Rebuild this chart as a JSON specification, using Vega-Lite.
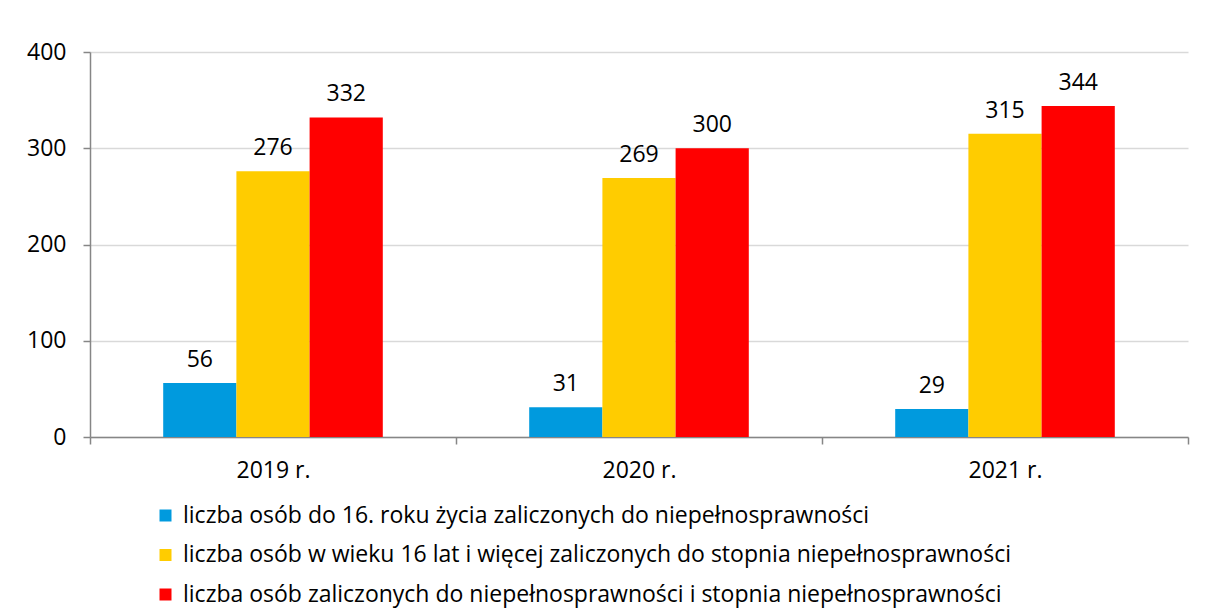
{
  "$schema": "https://vega.github.io/schema/vega-lite/v6.json",
  "width": 1098,
  "height": 385,
  "autosize": {"type": "none"},
  "padding": {"left": 90, "top": 52, "right": 28, "bottom": 173},
  "background": "white",
  "config": {
    "view": {"stroke": null},
    "font": "Open Sans",
    "axis": {"labelFont": "Open Sans", "labelFontSize": 23, "labelColor": "#000000", "domainColor": "#868686", "tickColor": "#868686", "gridColor": "#d9d9d9", "gridWidth": 1.5, "domainWidth": 1.5, "tickWidth": 1.5}
  },
  "data": {
    "values": [
      {"rok": "2019 r.", "seria": "liczba osób do 16. roku życia zaliczonych do niepełnosprawności", "v": 56},
      {"rok": "2019 r.", "seria": "liczba osób w wieku 16 lat i więcej zaliczonych do stopnia niepełnosprawności", "v": 276},
      {"rok": "2019 r.", "seria": "liczba osób zaliczonych do niepełnosprawności i stopnia niepełnosprawności", "v": 332},
      {"rok": "2020 r.", "seria": "liczba osób do 16. roku życia zaliczonych do niepełnosprawności", "v": 31},
      {"rok": "2020 r.", "seria": "liczba osób w wieku 16 lat i więcej zaliczonych do stopnia niepełnosprawności", "v": 269},
      {"rok": "2020 r.", "seria": "liczba osób zaliczonych do niepełnosprawności i stopnia niepełnosprawności", "v": 300},
      {"rok": "2021 r.", "seria": "liczba osób do 16. roku życia zaliczonych do niepełnosprawności", "v": 29},
      {"rok": "2021 r.", "seria": "liczba osób w wieku 16 lat i więcej zaliczonych do stopnia niepełnosprawności", "v": 315},
      {"rok": "2021 r.", "seria": "liczba osób zaliczonych do niepełnosprawności i stopnia niepełnosprawności", "v": 344}
    ]
  },
  "encoding": {
    "x": {
      "field": "rok", "type": "nominal",
      "scale": {"paddingInner": 0, "paddingOuter": 0},
      "axis": {"title": null, "labelAngle": 0, "tickBand": "extent", "tickSize": 7, "labelPadding": 15, "grid": false}
    },
    "xOffset": {
      "field": "seria", "type": "nominal",
      "sort": ["liczba osób do 16. roku życia zaliczonych do niepełnosprawności", "liczba osób w wieku 16 lat i więcej zaliczonych do stopnia niepełnosprawności", "liczba osób zaliczonych do niepełnosprawności i stopnia niepełnosprawności"],
      "scale": {"paddingInner": 0, "paddingOuter": 1}
    },
    "y": {
      "field": "v", "type": "quantitative",
      "scale": {"domain": [0, 400]},
      "axis": {"title": null, "values": [0, 100, 200, 300, 400], "tickSize": 7, "labelPadding": 17, "grid": true}
    }
  },
  "layer": [
    {
      "mark": {"type": "bar"},
      "encoding": {
        "color": {
          "field": "seria", "type": "nominal",
          "sort": ["liczba osób do 16. roku życia zaliczonych do niepełnosprawności", "liczba osób w wieku 16 lat i więcej zaliczonych do stopnia niepełnosprawności", "liczba osób zaliczonych do niepełnosprawności i stopnia niepełnosprawności"],
          "scale": {"range": ["#009ADE", "#FFCC00", "#FF0000"]},
          "legend": {
            "title": null, "orient": "none", "legendX": 64, "legendY": 452, "direction": "vertical",
            "symbolType": "square", "symbolSize": 144, "symbolStrokeWidth": 0, "symbolOpacity": 1,
            "labelFont": "Open Sans", "labelFontSize": 23, "labelColor": "#000000", "labelLimit": 1100,
            "labelOffset": 6, "rowPadding": 15.5
          }
        }
      }
    },
    {
      "mark": {"type": "text", "baseline": "bottom", "dy": -11, "fontSize": 23, "font": "Open Sans", "color": "#000000"},
      "encoding": {"text": {"field": "v", "type": "quantitative"}}
    }
  ]
}
